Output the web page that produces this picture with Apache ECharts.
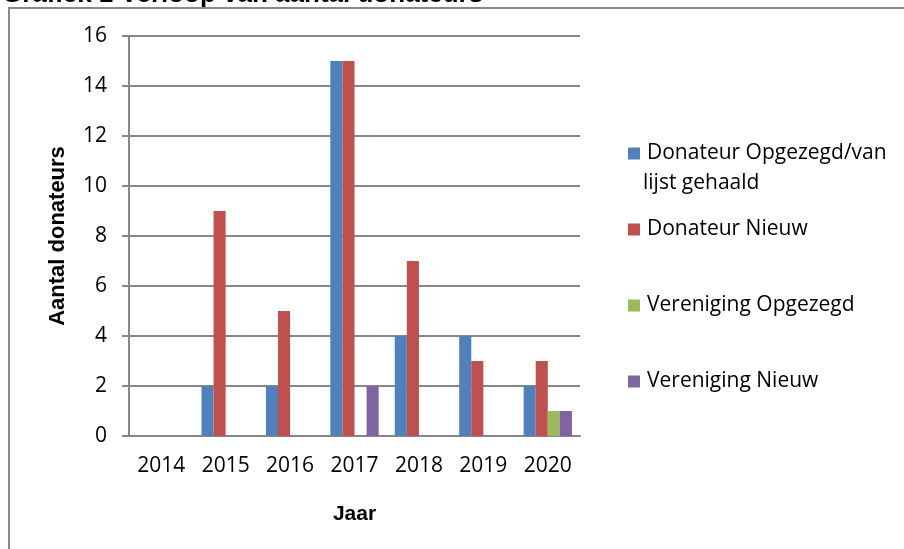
<!DOCTYPE html>
<html>
<head>
<meta charset="utf-8">
<script src="https://cdn.jsdelivr.net/npm/echarts@6/dist/echarts.min.js"></script>
<style>
  html, body { margin: 0; padding: 0; background: #fff; }
  #chart { width: 904px; height: 549px; }
</style>
</head>
<body>
<div id="chart"></div>
<script>
// jaren op de x-as
const years = ['2014', '2015', '2016', '2017', '2018', '2019', '2020']

// aantallen per reeks
const donateurOpgezegd = [0, 2, 2, 15, 4, 4, 2]
const donateurNieuw = [0, 9, 5, 15, 7, 3, 3]
const verenigingOpgezegd = [0, 0, 0, 0, 0, 0, 1]
const verenigingNieuw = [0, 0, 0, 2, 0, 0, 1]

const seriesNames = [
    'Donateur Opgezegd/van lijst gehaald',
    'Donateur Nieuw',
    'Vereniging Opgezegd',
    'Vereniging Nieuw'
]
const colors = ['#4F81BD', '#C0504D', '#9BBB59', '#8064A2']

const gridColor = '#878787'
const labelFont = '"Open Sans", sans-serif'
const boldFont = '"Liberation Sans", Arial, sans-serif'

const chart = echarts.init(document.getElementById('chart'))

function bar(name, data, color) {
    return {
        name: name,
        type: 'bar',
        data: data,
        barGap: '0%',
        barCategoryGap: '25%',
        itemStyle: { color: color },
        emphasis: { disabled: true }
    }
}

const option = {
    animation: false,
    title: {
        text: 'Grafiek 1 Verloop van aantal donateurs',
        left: 2,
        top: -18,
        padding: 0,
        textStyle: { fontFamily: boldFont, fontWeight: 'bold', fontSize: 26, color: '#000' }
    },
    graphic: [
        {
            type: 'rect',
            shape: { x: 9, y: 8, width: 1000, height: 600 },
            style: { fill: 'none', stroke: '#888', lineWidth: 2 },
            silent: true
        },
        {
            type: 'text',
            left: 643,
            top: 173,
            style: { text: 'lijst gehaald', font: '21px ' + labelFont, fill: '#000' }
        }
    ],
    legend: {
        orient: 'vertical',
        left: 623,
        top: 138,
        itemWidth: 12,
        itemHeight: 12,
        itemGap: 55,
        icon: 'rect',
        data: seriesNames,
        formatter: function (name) {
            return name === seriesNames[0] ? 'Donateur Opgezegd/van' : name
        },
        textStyle: { fontFamily: labelFont, fontSize: 21, color: '#000', lineHeight: 20, padding: [0, 0, 0, 2] }
    },
    grid: { left: 129, right: 324, top: 36, bottom: 113 },
    xAxis: {
        type: 'category',
        data: years,
        name: 'Jaar',
        nameLocation: 'middle',
        nameGap: 68,
        nameTextStyle: { fontFamily: boldFont, fontWeight: 'bold', fontSize: 21, color: '#000' },
        axisLine: { lineStyle: { color: gridColor, width: 2 } },
        axisTick: { length: 7, lineStyle: { color: gridColor, width: 2 } },
        axisLabel: { fontFamily: labelFont, fontSize: 21, color: '#000', margin: 20 }
    },
    yAxis: {
        type: 'value',
        min: 0,
        max: 16,
        interval: 2,
        name: 'Aantal donateurs',
        nameLocation: 'middle',
        nameGap: 60,
        nameTextStyle: { fontFamily: boldFont, fontWeight: 'bold', fontSize: 22, color: '#000' },
        axisLine: { show: true, lineStyle: { color: gridColor, width: 2 } },
        axisTick: { show: true, length: 7, lineStyle: { color: gridColor, width: 2 } },
        axisLabel: { fontFamily: labelFont, fontSize: 21, color: '#000', margin: 22 },
        splitLine: { lineStyle: { color: gridColor, width: 2 } }
    },
    series: [
        bar(seriesNames[0], donateurOpgezegd, colors[0]),
        bar(seriesNames[1], donateurNieuw, colors[1]),
        bar(seriesNames[2], verenigingOpgezegd, colors[2]),
        bar(seriesNames[3], verenigingNieuw, colors[3])
    ]
}

chart.setOption(option)
</script>
</body>
</html>
